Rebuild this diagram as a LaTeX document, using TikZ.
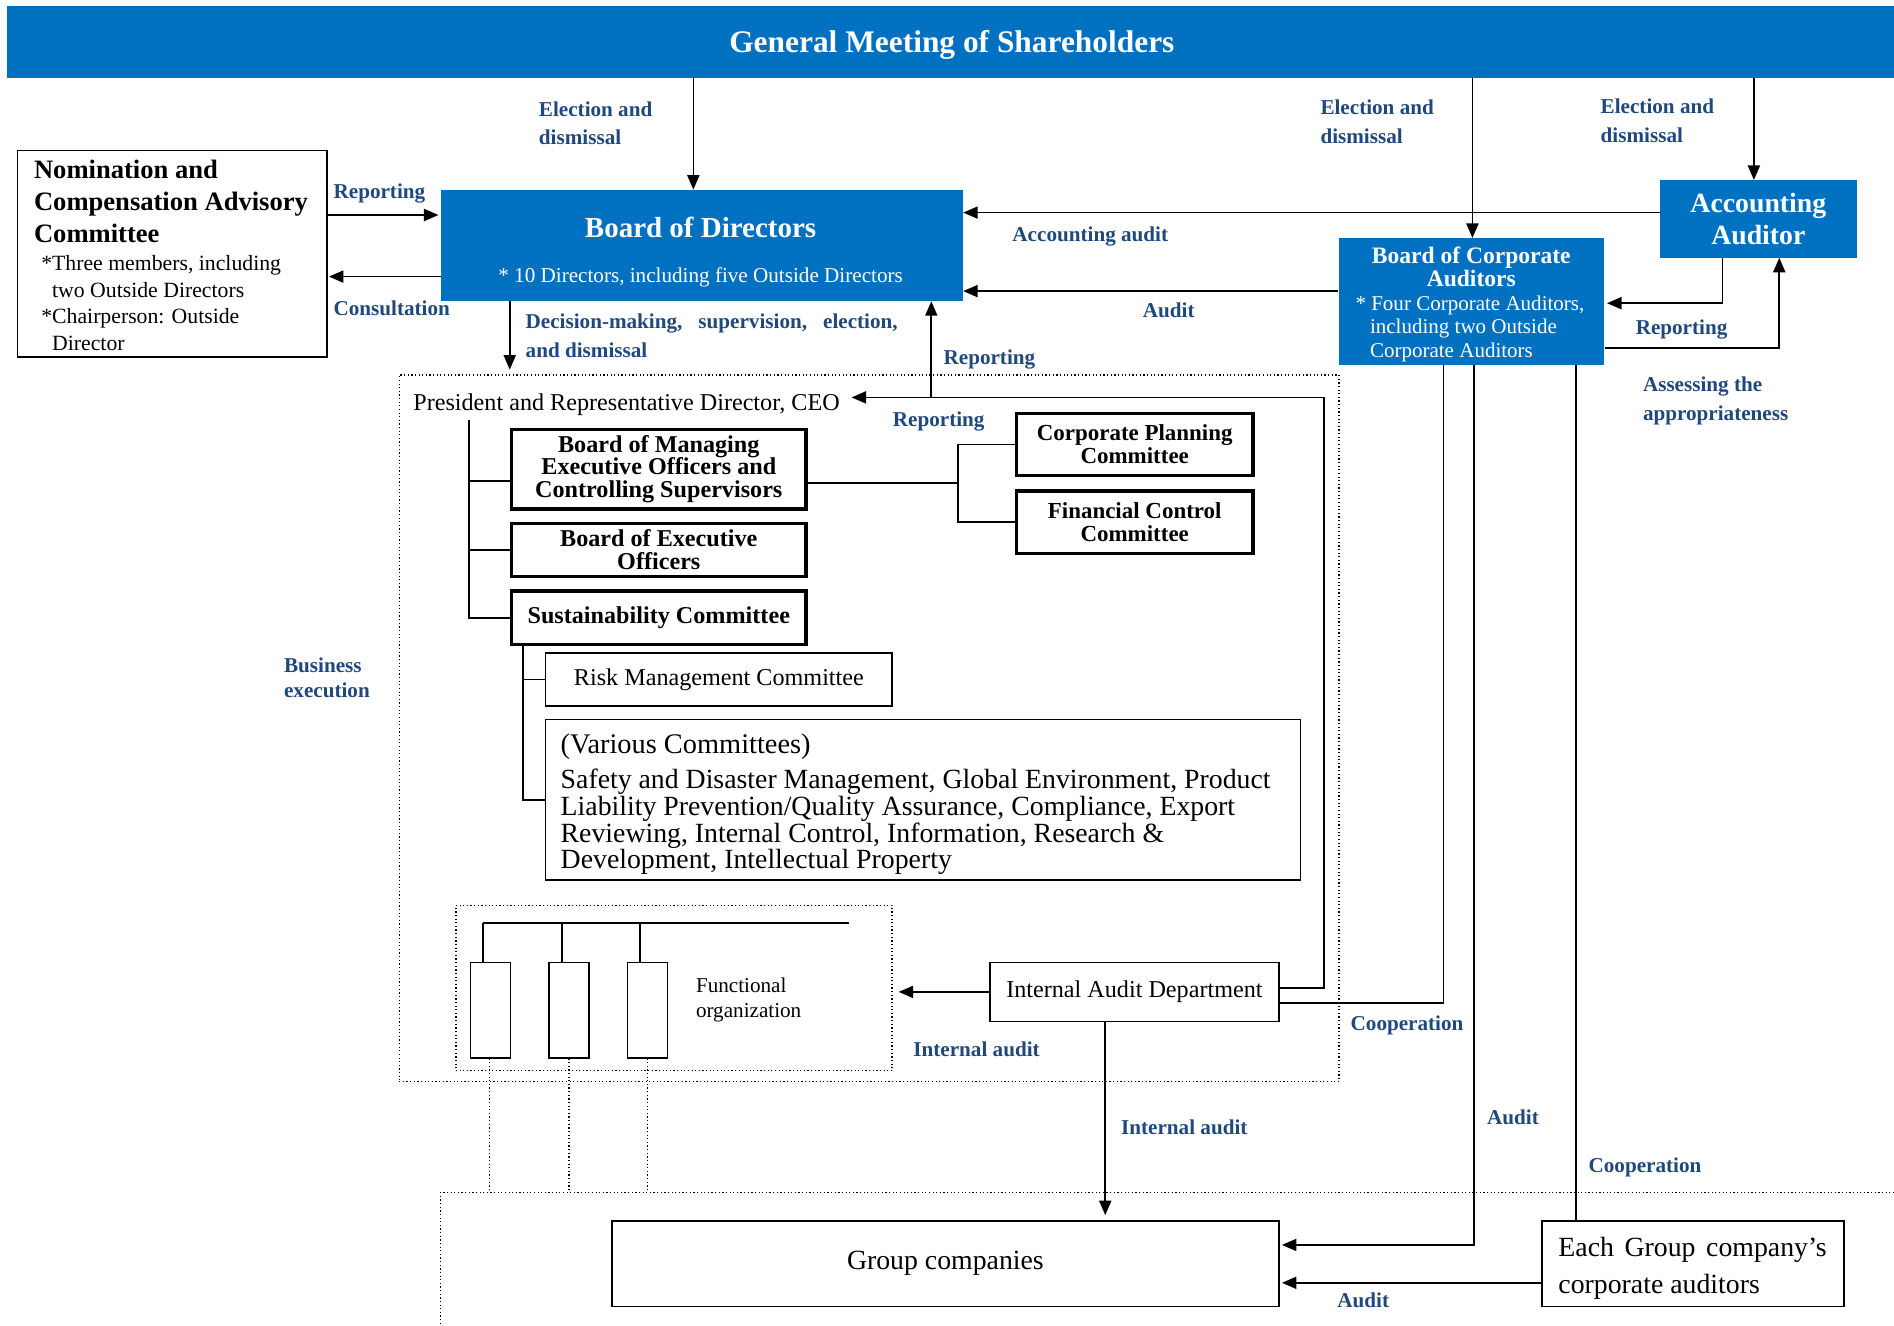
\documentclass[tikz,border=0pt]{standalone}
\usepackage{fontspec}
\setmainfont{Liberation Serif}
\usetikzlibrary{arrows.meta}
\definecolor{bblue}{RGB}{0,112,192}
\definecolor{lblue}{RGB}{31,73,125}
\newcommand\lblfont{\fontsize{17.5}{24}\selectfont\bfseries}
\begin{document}
\begin{tikzpicture}[x=1pt,y=-1pt,
  arr/.style={line width=1.4pt, -{Triangle[length=12pt,width=10pt]}},
  ln/.style={line width=1.4pt},
  bx/.style={draw, line width=1.3pt, anchor=north west, inner sep=0pt, align=center},
  tbx/.style={bx, line width=2.8pt, font=\fontsize{20}{19}\selectfont\bfseries},
  bluebx/.style={fill=bblue, anchor=north west, inner sep=0pt, text=white, align=center},
  dotbox/.style={draw, dotted, line width=1pt, anchor=north west, inner sep=0pt},
  lbl/.style={text=lblue, font=\lblfont, align=left, anchor=north west, inner sep=0pt},
  txt/.style={anchor=north west, inner sep=0pt, align=left},
]
\fill[white] (0,0) rectangle (1568,1097);
\useasboundingbox (0,0) rectangle (1568,1097);

% ---------- top ----------
\node[bluebx, minimum width=1562pt, minimum height=59pt] (gms) at (6,5) {};
\node[text=white, inner sep=0pt, font=\fontsize{26}{26}\selectfont\bfseries] (gmst) at (788,37) {General Meeting of Shareholders};

\node[bx, minimum width=256pt, minimum height=171pt] (ncac) at (14,124) {};
\node[txt, font=\fontsize{22}{26.5}\selectfont\bfseries] (ncact) at (28,132) {Nomination and\\Compensation Advisory\\Committee};
\node[txt, font=\fontsize{18}{22}\selectfont] (ncacn) at (34,211.5) {*Three members, including\\\hspace*{9pt}two Outside Directors\\*Chairperson: Outside\\\hspace*{9pt}Director};

\node[bluebx, minimum width=432pt, minimum height=92pt] (bod) at (365,157) {};
\node[text=white, inner sep=0pt, font=\fontsize{24}{24}\selectfont\bfseries] (bodt) at (580,188) {Board of Directors};
\node[text=white, inner sep=0pt, font=\fontsize{17.5}{20}\selectfont] (bodn) at (580,230) {* 10 Directors, including five Outside Directors};

\node[bluebx, minimum width=163pt, minimum height=64pt, font=\fontsize{23}{27}\selectfont\bfseries] (aa) at (1374,149) {Accounting\\Auditor};

\node[bluebx, minimum width=220pt, minimum height=105pt] (bca) at (1108,197) {};
\node[text=white, inner sep=0pt, align=center, font=\fontsize{19.5}{19}\selectfont\bfseries] (bcat) at (1218,221) {Board of Corporate\\Auditors};
\node[txt, text=white, font=\fontsize{17.4}{19.5}\selectfont] (bcan) at (1122,244.7) {* Four Corporate Auditors,\\\hspace*{12pt}including two Outside\\\hspace*{12pt}Corporate Auditors};

% ---------- execution block ----------
\node[dotbox, minimum width=778pt, minimum height=585pt] (exec) at (330,310) {};
\node[txt, font=\fontsize{20}{20}\selectfont] (ceo) at (342,326) {President and Representative Director, CEO};
\coordinate (ceoin) at (705,329);

\node[tbx, minimum width=244pt, minimum height=66pt] (bmeo) at (422,354) {Board of Managing\\Executive Officers and\\Controlling Supervisors};
\node[tbx, minimum width=244pt, minimum height=44pt] (beo) at (422,432) {Board of Executive\\Officers};
\node[tbx, minimum width=244pt, minimum height=44pt] (sc) at (422,488) {Sustainability Committee};
\node[tbx, minimum width=196pt, minimum height=51pt, font=\fontsize{19}{19}\selectfont\bfseries] (cpc) at (840,341) {Corporate Planning\\Committee};
\node[tbx, minimum width=196pt, minimum height=52pt, font=\fontsize{19}{19}\selectfont\bfseries] (fcc) at (840,405) {Financial Control\\Committee};

\node[bx, minimum width=287pt, minimum height=44pt, font=\fontsize{20}{20}\selectfont] (risk) at (451,540) {Risk Management Committee};
\node[bx, minimum width=625pt, minimum height=133pt] (various) at (451,595) {};
\node[txt, font=\fontsize{23.5}{22}\selectfont] (varh) at (464,607.5) {(Various Committees)};
\node[txt, font=\fontsize{23}{22}\selectfont] (vart) at (464,636.7) {Safety and Disaster Management, Global Environment, Product\\Liability Prevention/Quality Assurance, Compliance, Export\\Reviewing, Internal Control, Information, Research \&\\Development, Intellectual Property};

\node[dotbox, minimum width=361pt, minimum height=137pt] (func) at (377,749) {};
\node[bx, minimum width=33pt, minimum height=79pt] (f1) at (389,796) {};
\node[bx, minimum width=33pt, minimum height=79pt] (f2) at (454,796) {};
\node[bx, minimum width=33pt, minimum height=79pt] (f3) at (519,796) {};
\node[txt, font=\fontsize{17.5}{20}\selectfont] (funct) at (576,809.7) {Functional\\organization};

\node[bx, minimum width=239pt, minimum height=49pt, font=\fontsize{20}{20}\selectfont] (iad) at (819,796) {Internal Audit Department};

% ---------- group ----------
\coordinate (grtl) at (365,987);
\coordinate (grtr) at (1568,987);
\coordinate (grbl) at (365,1097);
\draw[dotted, line width=1pt] (grtr) -- (grtl) -- (grbl);
\node[bx, minimum width=552pt, minimum height=71pt, font=\fontsize{23}{23}\selectfont] (gc) at (506,1010) {Group companies};
\node[bx, minimum width=250pt, minimum height=71pt] (egca) at (1276,1010) {};
\node[txt, font=\fontsize{23}{31}\selectfont] (egcat) at (1290,1023.7) {\makebox[222pt][s]{Each Group company’s}\\corporate auditors};

% ---------- labels ----------
\node[lbl] (le1) at (446,83.7) {Election and\\dismissal};
\node[lbl] (le2) at (1093,82.7) {Election and\\dismissal};
\node[lbl] (le3) at (1325,81.7) {Election and\\dismissal};
\node[lbl] (lrep1) at (276,151.7) {Reporting};
\node[lbl] (lcons) at (276,248.7) {Consultation};
\node[lbl] (lacc) at (838,187.7) {Accounting audit};
\node[lbl] (laud1) at (946,250.7) {Audit};
\node[lbl] (lrep2) at (1354,264.7) {Reporting};
\node[lbl] (lass) at (1360,311.7) {Assessing the\\appropriateness};
\node[lbl] (ldec) at (435,259.7) {\makebox[308pt][s]{Decision-making, supervision, election,}\\and dismissal};
\node[lbl] (lrep3) at (781,289.7) {Reporting};
\node[lbl] (lrep4) at (739,340.7) {Reporting};
\node[lbl, font=\fontsize{17.5}{20}\selectfont\bfseries] (lbus) at (235,544.7) {Business\\execution};
\node[lbl] (lia1) at (756,862.7) {Internal audit};
\node[lbl] (lia2) at (928,926.7) {Internal audit};
\node[lbl] (lcoop1) at (1118,840.7) {Cooperation};
\node[lbl] (laud2) at (1231,918.7) {Audit};
\node[lbl] (lcoop2) at (1315,958.7) {Cooperation};
\node[lbl] (laud3) at (1107,1069.7) {Audit};

% ---------- connectors ----------
\draw[arr] (574,0 |- gms.south) -- (574,0 |- bod.north);
\draw[arr] (1219,0 |- gms.south) -- (1219,0 |- bca.north);
\draw[arr] (1452,0 |- gms.south) -- (1452,0 |- aa.north);
\draw[arr, shorten >=2pt] (ncac.east |- 0,178) -- (bod.west |- 0,178);
\draw[arr, shorten >=1pt] (bod.west |- 0,229) -- (ncac.east |- 0,229);
\draw[arr] (aa.west |- 0,176) -- (bod.east |- 0,176);
\draw[arr] (bca.west |- 0,241) -- (bod.east |- 0,241);
\draw[arr, shorten >=2pt] (1426,0 |- aa.south) |- (bca.east |- 0,251);
\draw[arr] (bca.east |- 0,288) -| (1473,0 |- aa.south);
\draw[arr, shorten >=4pt] (422,0 |- bod.south) -- (422,0 |- exec.north);
\draw[arr] ([yshift=3pt]iad.east) -| (1096,0 |- ceoin) -- (ceoin);
\draw[arr] (771,0 |- ceoin) -- (771,0 |- bod.south);

\draw[ln] (388,348) |- (sc.west);
\draw[ln] (388,398) -- (bmeo.west |- 0,398);
\draw[ln] (388,0 |- beo.west) -- (beo.west);
\draw[ln] (bmeo.east |- 0,400) -- (793,400);
\draw[ln] (cpc.west) -| (793,400) |- (fcc.west);
\draw[ln] (433,0 |- sc.south) |- (various.west);
\draw[ln] (433,0 |- risk.west) -- (risk.west);

\draw[ln] (400,764) -- (703,764);
\draw[ln] (400,764) -- (400,0 |- f1.north);
\draw[ln] (465,764) -- (465,0 |- f2.north);
\draw[ln] (530,764) -- (530,0 |- f3.north);
\draw[dotted, line width=1pt] (405,0 |- f1.south) -- (405,0 |- grtl);
\draw[dotted, line width=1pt] (471,0 |- f2.south) -- (471,0 |- grtl);
\draw[dotted, line width=1pt] (536,0 |- f3.south) -- (536,0 |- grtl);

\draw[arr, shorten >=5pt] (iad.west) -- (func.east |- iad.west);
\draw[arr, shorten >=4pt] (915,0 |- iad.south) -- (915,0 |- gc.north);
\draw[ln] ([yshift=-9pt]iad.east) -| (1195,0 |- bca.south);
\draw[arr, shorten >=2pt] (1220,0 |- bca.south) |- ([yshift=15.5pt]gc.east);
\draw[arr, shorten >=2pt] (egca.west |- 0,1062) -- (gc.east |- 0,1062);
\draw[ln] (1305,0 |- bca.south) -- (1305,0 |- egca.north);
\end{tikzpicture}
\end{document}
